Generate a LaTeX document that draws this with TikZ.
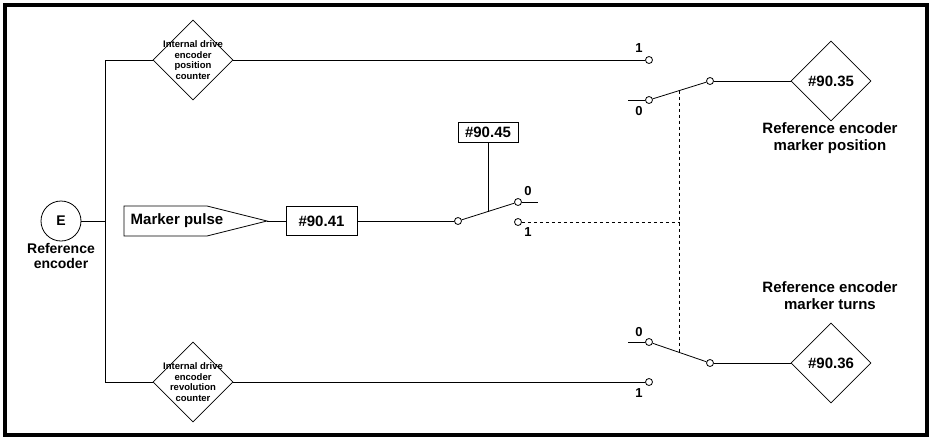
\documentclass[tikz,border=0pt]{standalone}
\usepackage{fontspec}
\setmainfont{Liberation Sans}
\usetikzlibrary{shapes.geometric,calc}

\begin{document}
\begin{tikzpicture}
  [x=1pt,y=-1pt,line width=0.8pt,
   every node/.style={font=\bfseries},
   lbl/.style={align=center,font=\bfseries\fontsize{15}{17}\selectfont},
   box/.style={draw,inner sep=0pt,font=\bfseries\fontsize{15}{17}\selectfont},
   ctr/.style={diamond,draw,inner sep=0pt,minimum width=80pt,minimum height=80pt},
   ctrtext/.style={align=center,font=\bfseries\fontsize{9.5}{10.7}\selectfont},
   contact/.style={circle,draw,fill=white,inner sep=0pt,minimum size=7pt},
   digit/.style={inner sep=0pt,font=\bfseries\fontsize{13}{13}\selectfont}]
  \useasboundingbox (0,0) rectangle (929,437);
  \draw[line width=4pt] (5,5) rectangle (927,435);

  % encoder and counters
  \node[circle,draw,minimum size=40pt,inner sep=0pt,font=\bfseries\fontsize{14}{14}\selectfont] (enc) at (61,221) {E};
  \node[align=center,font=\bfseries\fontsize{14}{15}\selectfont] (enclbl) at (61,256) {Reference\\encoder};
  \node[ctr] (pctr) at (193,60) {};
  \node[ctrtext] at (pctr) {Internal drive\\encoder\\position\\counter};
  \node[ctr] (rctr) at (193,382) {};
  \node[ctrtext] at (rctr) {Internal drive\\encoder\\revolution\\counter};
  \coordinate (split) at (105,221);

  % marker pulse path
  \node[lbl] (mpulse) at (177,221) {Marker pulse};
  \draw (124,206) -- (207,206) -- (267,221) coordinate (mptip) -- (207,236) -- (124,236) -- cycle;
  \node[box,minimum width=71pt,minimum height=29pt] (p41) at (321.5,221) {\#90.41};
  \node[box,minimum width=60pt,minimum height=20pt] (p45) at (488,132) {\#90.45};

  % switch selected by #90.45
  \node[contact] (s1c) at (458,221) {};
  \node[contact] (s1a) at (518,202) {};
  \node[contact] (s1b) at (518,222) {};
  \coordinate (s1aend) at (538,202);
  \coordinate (s1mid) at ($(s1c)!0.5!(s1a)$);
  \node[digit] at (528,191) {0};
  \node[digit] at (528,232) {1};

  % output switches
  \node[contact] (s2a) at (649,60) {};
  \node[contact] (s2b) at (649,100) {};
  \node[contact] (s2c) at (710,81) {};
  \coordinate (s2end) at (628,100);
  \coordinate (s2mid) at ($(s2b)!0.5!(s2c)$);
  \node[digit] at (639,48) {1};
  \node[digit] at (639,111) {0};

  \node[contact] (s3b) at (649,342) {};
  \node[contact] (s3a) at (649,382) {};
  \node[contact] (s3c) at (710,363) {};
  \coordinate (s3end) at (628,342);
  \coordinate (s3mid) at ($(s3b)!0.5!(s3c)$);
  \node[digit] at (639,332) {0};
  \node[digit] at (639,393) {1};

  \node[ctr,font=\bfseries\fontsize{15}{17}\selectfont] (p35) at (831,81) {\#90.35};
  \node[lbl] at (830,138) {Reference encoder\\marker position};
  \node[ctr,font=\bfseries\fontsize{15}{17}\selectfont] (p36) at (831,363) {\#90.36};
  \node[lbl] at (830,296) {Reference encoder\\marker turns};

  \foreach \from/\to in {enc/split,mptip/p41,p41/s1c,s1c/s1a,s1a/s1aend,p45/s1mid,
                         pctr/s2a,s2end/s2b,s2b/s2c,s2c/p35,
                         rctr/s3a,s3end/s3b,s3b/s3c,s3c/p36}
    \draw (\from) -- (\to);
  \draw (pctr.west) -- (pctr.west -| split) -- (rctr.west -| split) -- (rctr.west);
  \draw[dashed] (s2mid) -- (s3mid);
  \draw[dashed] (s1b) -- (s1b -| s2mid);
\end{tikzpicture}
\end{document}
